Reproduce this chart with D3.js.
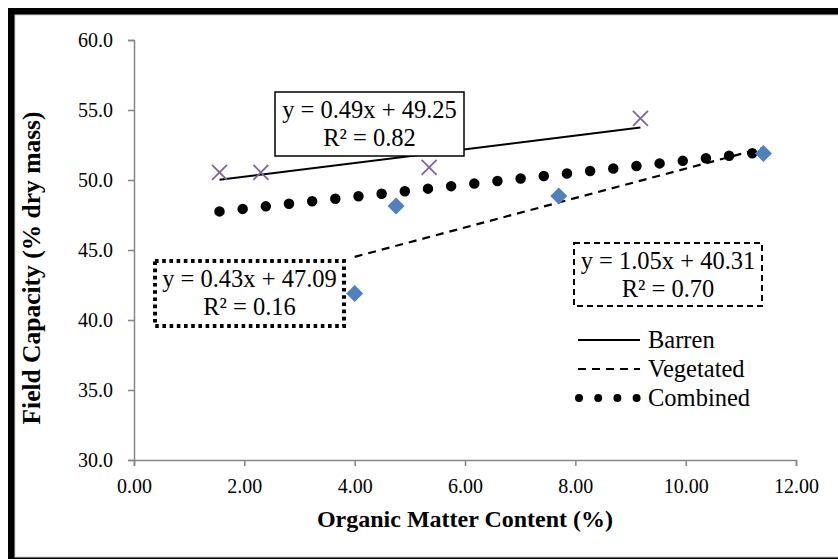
<!DOCTYPE html>
<html>
<head>
<meta charset="utf-8">
<script src="https://cdn.jsdelivr.net/npm/d3@7"></script>
<style>
  body { margin: 0; background: #fff; }
  svg { display: block; font-family: 'Liberation Serif', 'Times New Roman', serif; }
  .tick text { font-size: 20px; fill: #000; font-family: 'Liberation Serif', 'Times New Roman', serif; }
  .eq-text { font-size: 24.5px; text-anchor: middle; }
  .legend-text { font-size: 24.5px; }
  .axis-title { font-weight: bold; text-anchor: middle; }
</style>
</head>
<body>
<svg id="chart" width="838" height="559"></svg>
<script>
// data
const barrenOM = [1.55, 2.30, 5.35, 9.18];
const barrenFC = [50.55, 50.55, 50.9, 54.4];
const vegetatedOM = [4.0, 4.75, 7.7, 11.41];
const vegetatedFC = [41.9, 48.15, 48.85, 51.9];

const seriesNames = ['Barren', 'Vegetated', 'Combined'];
const trendSlopes = [0.49, 1.05, 0.43];
const trendIntercepts = [49.25, 40.31, 47.09];
const trendR2 = [0.82, 0.70, 0.16];

const xTicks = [0, 2, 4, 6, 8, 10, 12];
const yTicks = [30, 35, 40, 45, 50, 55, 60];

const purple = '#8064A2';
const blue = '#4F81BD';
const axisGrey = '#868686';

const svg = d3.select('#chart');

// frame, thick on top/left like the source
svg.append('rect').attr('x', 8).attr('y', 8).attr('width', 900).attr('height', 551).style('fill', '#000');
svg.append('rect').attr('x', 15).attr('y', 15).attr('width', 900).attr('height', 542)
  .style('fill', '#fff').style('stroke', '#d0d0d0').style('stroke-width', 1);

const x = d3.scaleLinear().domain([0, 12]).range([134, 796]);
const y = d3.scaleLinear().domain([30, 60]).range([460, 40]);

const styleAxis = (g) => {
  g.attr('font-family', null);
  g.select('.domain').style('stroke', axisGrey).style('stroke-width', 1.5);
  g.selectAll('.tick line').style('stroke', axisGrey).style('stroke-width', 1.5);
};

svg.append('g')
  .attr('transform', `translate(0, ${y(30)})`)
  .call(d3.axisBottom(x).tickValues(xTicks).tickFormat(d3.format('.2f')).tickSize(6).tickSizeOuter(6).tickPadding(13))
  .call(styleAxis);

svg.append('g')
  .attr('transform', `translate(${x(0)}, 0)`)
  .call(d3.axisLeft(y).tickValues(yTicks).tickFormat(d3.format('.1f')).tickSize(6).tickSizeOuter(6).tickPadding(15))
  .call(styleAxis);

svg.append('text').attr('class', 'axis-title')
  .attr('transform', `translate(${(x(0) + x(12)) / 2}, 527)`)
  .style('font-size', '24px')
  .text('Organic Matter Content (%)');

svg.append('text').attr('class', 'axis-title')
  .attr('transform', 'translate(40, 268) rotate(-90)')
  .style('font-size', '25.5px')
  .text('Field Capacity (% dry mass)');

// trendlines
const allOM = barrenOM.concat(vegetatedOM);
const ranges = [d3.extent(barrenOM), d3.extent(vegetatedOM), d3.extent(allOM)];
const lineStyles = [
  { width: 2, dash: null, cap: 'butt' },
  { width: 2.2, dash: '8 6', cap: 'butt' },
  { width: 10.5, dash: '0 23.3', cap: 'round' },
];

const trend = d3.line().x((d) => x(d[0])).y((d) => y(d[1]));

[2, 1, 0].forEach((i) => {
  const pts = ranges[i].map((v) => [v, trendSlopes[i] * v + trendIntercepts[i]]);
  svg.append('path')
    .datum(pts)
    .attr('d', trend)
    .style('fill', 'none')
    .style('stroke', '#000')
    .style('stroke-width', lineStyles[i].width)
    .style('stroke-dasharray', lineStyles[i].dash)
    .style('stroke-linecap', lineStyles[i].cap);
});

// markers
const barrenPts = barrenOM.map((v, i) => [v, barrenFC[i]]);
const vegPts = vegetatedOM.map((v, i) => [v, vegetatedFC[i]]);

svg.append('g').selectAll('path')
  .data(barrenPts)
  .enter()
  .append('path')
  .attr('transform', (d) => `translate(${x(d[0])}, ${y(d[1])})`)
  .attr('d', 'M-7.5,-7.5L7.5,7.5M-7.5,7.5L7.5,-7.5')
  .style('stroke', purple)
  .style('stroke-width', 1.8)
  .style('fill', 'none');

svg.append('g').selectAll('path')
  .data(vegPts)
  .enter()
  .append('path')
  .attr('transform', (d) => `translate(${x(d[0])}, ${y(d[1])})`)
  .attr('d', 'M0,-8.5L8.5,0L0,8.5L-8.5,0Z')
  .style('fill', blue);

// equation labels
const eqBoxes = [
  { x: 275, y: 92, w: 189, h: 64, width: 1.5, dash: null },
  { x: 574, y: 243, w: 188, h: 63, width: 2, dash: '6 4' },
  { x: 155, y: 261, w: 189, h: 65, width: 4, dash: '3.6 3.6' },
];

eqBoxes.forEach((b, i) => {
  const g = svg.append('g').attr('transform', `translate(${b.x}, ${b.y})`);
  g.append('rect')
    .attr('width', b.w)
    .attr('height', b.h)
    .style('fill', '#fff')
    .style('stroke', '#000')
    .style('stroke-width', b.width)
    .style('stroke-dasharray', b.dash);
  g.append('text').attr('class', 'eq-text')
    .attr('x', b.w / 2).attr('y', 26)
    .text(`y = ${trendSlopes[i].toFixed(2)}x + ${trendIntercepts[i].toFixed(2)}`);
  g.append('text').attr('class', 'eq-text')
    .attr('x', b.w / 2).attr('y', 54)
    .text(`R² = ${trendR2[i].toFixed(2)}`);
});

// legend
const legend = svg.append('g').attr('transform', 'translate(578, 340)');
const legendDash = [null, '8 6', '0 19.2'];
const legendWidth = [2, 2, 8];
const legendCap = ['butt', 'butt', 'round'];

seriesNames.forEach((name, i) => {
  const g = legend.append('g').attr('transform', `translate(0, ${i * 29})`);
  g.append('line')
    .attr('x1', legendCap[i] === 'round' ? 1 : 0)
    .attr('x2', legendCap[i] === 'round' ? 59 : 62)
    .style('stroke', '#000')
    .style('stroke-width', legendWidth[i])
    .style('stroke-dasharray', legendDash[i])
    .style('stroke-linecap', legendCap[i]);
  g.append('text').attr('class', 'legend-text')
    .attr('x', 70)
    .attr('dy', '0.33em')
    .text(name);
});
</script>
</body>
</html>
